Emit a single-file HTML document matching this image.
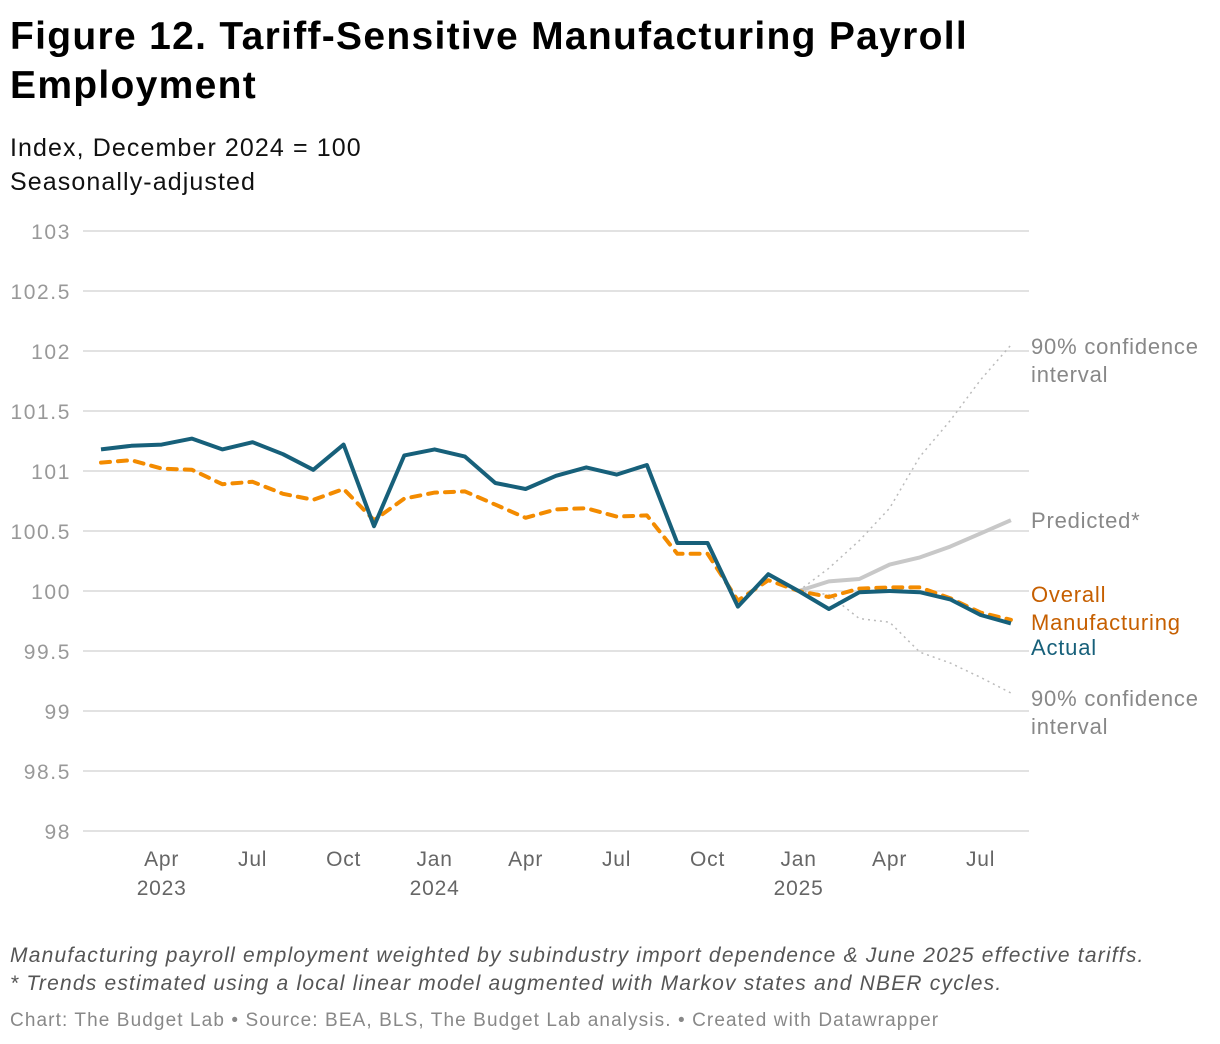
<!DOCTYPE html>
<html><head><meta charset="utf-8"><style>
body{margin:0;background:#fff;width:1220px;height:1044px;overflow:hidden;font-family:"Liberation Sans",Arial,sans-serif}
.t{position:absolute;left:10px;margin:0;white-space:nowrap}
</style></head><body>
<h1 class="t" style="top:12px;font-size:39px;line-height:49px;font-weight:bold;color:#000;letter-spacing:1.3px">Figure 12. Tariff-Sensitive Manufacturing Payroll<br>Employment</h1>
<div class="t" style="top:131px;font-size:25px;line-height:34px;color:#111;letter-spacing:1.1px">Index, December 2024 = 100<br>Seasonally-adjusted</div>
<svg id="c" width="1220" height="940" style="position:absolute;left:0;top:0" font-family="Liberation Sans, Arial, sans-serif"></svg>
<div class="t" style="top:942px;font-size:21px;line-height:28px;font-style:italic;color:#555;letter-spacing:1.2px">Manufacturing payroll employment weighted by subindustry import dependence &amp; June 2025 effective tariffs.<br>* Trends estimated using a local linear model augmented with Markov states and NBER cycles.</div>
<div class="t" style="top:1010px;font-size:19px;color:#888;letter-spacing:1.1px">Chart: The Budget Lab • Source: BEA, BLS, The Budget Lab analysis. • Created with Datawrapper</div>
<script>
const yTicks=[98,98.5,99,99.5,100,100.5,101,101.5,102,102.5,103];
const xTickMonths=[2,5,8,11,14,17,20,23,26,29];
const xTickLabels=["Apr","Jul","Oct","Jan","Apr","Jul","Oct","Jan","Apr","Jul"];
const xYearLabels={2:"2023",11:"2024",23:"2025"};
const actual=[101.18,101.21,101.22,101.27,101.18,101.24,101.14,101.01,101.22,100.54,101.13,101.18,101.12,100.9,100.85,100.96,101.03,100.97,101.05,100.4,100.4,99.87,100.14,100.0,99.85,99.99,100.0,99.99,99.93,99.8,99.73];
const overall=[101.07,101.09,101.02,101.01,100.89,100.91,100.81,100.76,100.85,100.59,100.77,100.82,100.83,100.72,100.61,100.68,100.69,100.62,100.63,100.31,100.31,99.92,100.09,100.0,99.95,100.02,100.03,100.03,99.94,99.82,99.76];
const predStart=23;
const predicted=[100,100.08,100.1,100.22,100.28,100.37,100.48,100.59];
const upperCI=[100,100.19,100.42,100.69,101.12,101.42,101.76,102.05];
const lowerCI=[100,99.97,99.77,99.74,99.49,99.4,99.28,99.15];
const svg=document.getElementById('c');const NS='http://www.w3.org/2000/svg';
const x0=83,x1=1029;
const xs=i=>101+(i-1)*30.33;
const ys=v=>831-(v-98)*120;
function mk(t,a){const e=document.createElementNS(NS,t);for(const k in a)e.setAttribute(k,a[k]);svg.appendChild(e);return e;}
yTicks.forEach(v=>{
 const g=mk('line',{x1:x0,x2:x1,y1:ys(v),y2:ys(v),stroke:'#e2e2e2','stroke-width':2});
 
 
 const t=mk('text',{x:71,y:ys(v)+8,'text-anchor':'end','font-size':21,fill:'#999','letter-spacing':1.6});t.textContent=v;
 
 
});
xTickMonths.forEach((m,k)=>{
 const t=mk('text',{x:xs(m+1),y:866,'text-anchor':'middle','font-size':21,fill:'#666','letter-spacing':0.8});t.textContent=xTickLabels[k];
 
 
 if(xYearLabels[m]){const y=mk('text',{x:xs(m+1),y:895,'text-anchor':'middle','font-size':21,fill:'#666','letter-spacing':0.8});y.textContent=xYearLabels[m];
 
 }
});
function line(arr,start,attrs,name){
 const d=arr.map((v,i)=>(i?'L':'M')+xs(start+i+1).toFixed(1)+','+ys(v).toFixed(1)).join('');
 const p=mk('path',Object.assign({d:d,fill:'none','stroke-linejoin':'round'},attrs));
 
 
}
line(upperCI,predStart,{stroke:'#bbb','stroke-width':1.5,'stroke-dasharray':'2 4'},'upper-ci-line');
line(lowerCI,predStart,{stroke:'#bbb','stroke-width':1.5,'stroke-dasharray':'2 4'},'lower-ci-line');
line(predicted,predStart,{stroke:'#c8c8c8','stroke-width':4},'predicted-line');
line(overall,0,{stroke:'#f38b00','stroke-width':4,'stroke-dasharray':'9 8','stroke-linecap':'round'},'overall-manufacturing-line');
line(actual,0,{stroke:'#17607a','stroke-width':4},'actual-line');
function lab(lines,y,color,name){lines.forEach((s,i)=>{const t=mk('text',{x:1031,y:y+i*28,'font-size':22,fill:color,'letter-spacing':0.8});t.textContent=s;
 
 });}
lab(['90% confidence','interval'],354,'#888','upper-ci-label');
lab(['Predicted*'],528,'#888','predicted-label');
lab(['Overall','Manufacturing'],602,'#c65f00','overall-label');
lab(['Actual'],655,'#17607a','actual-label');
lab(['90% confidence','interval'],706,'#888','lower-ci-label');
</script>
</body></html>
